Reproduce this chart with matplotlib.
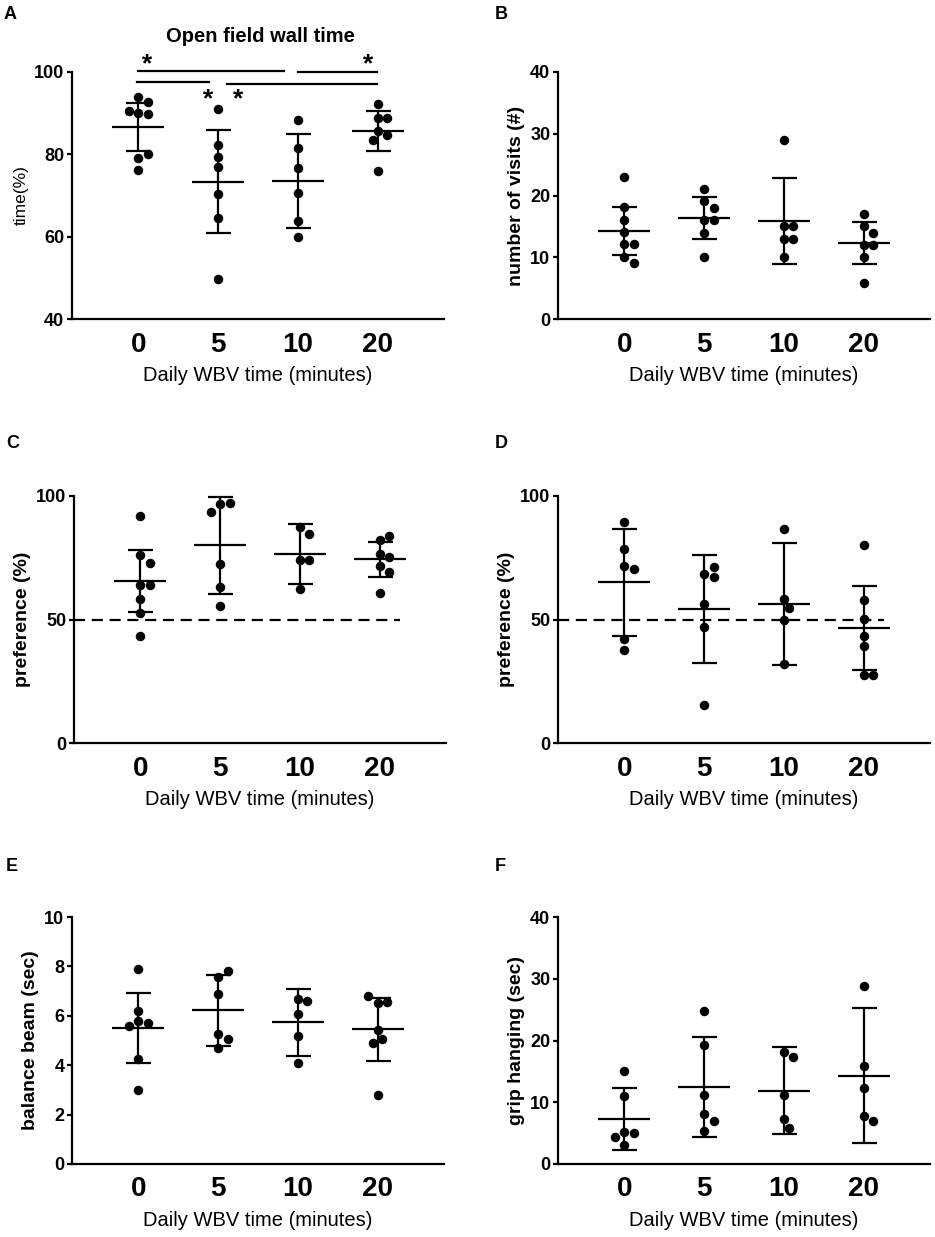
import numpy as np
import matplotlib.pyplot as plt

plt.rcParams['font.family'] = ['Liberation Sans', 'DejaVu Sans']

groups = ["0", "5", "10", "20"]

# A - open field wall time (%)
wall_pts = [[94.0, 90.0, 89.7, 92.6, 90.6, 79.0, 80.0, 76.3],
            [91.0, 82.2, 79.4, 76.9, 70.3, 64.6, 49.6],
            [88.3, 81.6, 76.7, 70.6, 63.7, 59.8],
            [92.3, 88.8, 88.8, 85.7, 84.7, 83.5, 76.0]]
wall_mean = [86.6, 73.4, 73.5, 85.7]
wall_sd = [5.75, 12.45, 11.35, 4.85]

# B - number of visits
visits_pts = [[23.0, 18.1, 16.0, 14.1, 12.1, 12.1, 10.1, 9.0],
              [21.1, 19.1, 18.0, 16.0, 16.0, 14.0, 10.0],
              [29.0, 15.1, 15.1, 13.0, 13.0, 10.0],
              [17.0, 15.1, 14.0, 12.0, 12.0, 10.0, 5.9]]
visits_mean = [14.3, 16.3, 15.9, 12.3]
visits_sd = [3.9, 3.4, 7.0, 3.35]

# C - preference (%)
prefC_pts = [[91.9, 76.1, 73.0, 64.0, 64.0, 58.2, 52.8, 43.5],
             [96.6, 97.2, 93.7, 72.4, 63.3, 55.3],
             [87.3, 84.6, 74.1, 73.9, 62.4],
             [82.2, 84.0, 76.5, 75.2, 71.7, 69.4, 60.9]]
prefC_mean = [65.5, 80.0, 76.6, 74.3]
prefC_sd = [12.5, 19.5, 12.05, 7.2]

# D - preference (%)
prefD_pts = [[89.6, 78.4, 71.8, 70.4, 42.0, 37.5],
             [68.5, 67.1, 71.2, 56.3, 46.9, 15.2],
             [86.7, 58.2, 54.6, 49.9, 31.9],
             [80.2, 58.0, 50.1, 43.4, 39.1, 27.6, 27.4]]
prefD_mean = [65.0, 54.2, 56.3, 46.6]
prefD_sd = [21.75, 22.0, 24.6, 17.05]

# E - balance beam (sec)
beam_pts = [[7.88, 5.80, 6.20, 5.69, 5.59, 4.27, 2.99],
            [7.57, 7.80, 6.90, 5.28, 5.08, 4.68],
            [6.70, 6.59, 6.09, 5.18, 4.07],
            [6.50, 6.56, 6.79, 5.42, 5.08, 4.88, 2.79]]
beam_mean = [5.49, 6.22, 5.73, 5.45]
beam_sd = [1.42, 1.45, 1.36, 1.29]

# F - grip hanging (sec)
grip_pts = [[15.1, 11.0, 5.24, 4.97, 4.3, 3.03],
            [24.7, 19.3, 11.1, 8.1, 6.97, 5.35],
            [18.1, 17.3, 11.2, 7.3, 5.78],
            [28.8, 15.9, 12.3, 7.8, 6.97]]
grip_mean = [7.3, 12.5, 11.9, 14.3]
grip_sd = [5.0, 8.1, 7.0, 10.9]

W, H = 935, 1237
fig = plt.figure(figsize=(W / 100, H / 100), dpi=100)

XLIM = (-0.83, 3.83)
AX_W, AX_H = 372, 247
DOT = 9.5  # diametro do ponto em px


def swarm(vals, ylim):
    # espalha os pontos na horizontal quando se sobrepoem (em px)
    ppu_y = AX_H / (ylim[1] - ylim[0])
    ys = [v * ppu_y for v in vals]
    placed = []
    offs = []
    cands = [0.0]
    for k in range(1, 8):
        cands += [k * DOT / 2, -k * DOT / 2]
    for y in ys:
        best = 0.0
        for c in cands:
            if all((c - px) ** 2 + (y - py) ** 2 >= DOT ** 2 for px, py in placed):
                best = c
                break
        placed.append((best, y))
        offs.append(best)
    ppu_x = AX_W / (XLIM[1] - XLIM[0])
    return np.array(offs) / ppu_x


def painel(rect, pts, mean, sd, ylim, yticks, ylabel, letra, letra_xy,
           ylabel_bold=True, ylabel_size=14, chance=False):
    ax = fig.add_axes(rect)
    for i, vals in enumerate(pts):
        xo = swarm(vals, ylim)
        ax.scatter(i + xo, vals, s=(DOT * 0.72) ** 2, c='black', zorder=3,
                   linewidths=0, clip_on=False)
    ax.errorbar(range(len(groups)), mean, yerr=sd, fmt='_', color='black',
                markersize=37, mew=1.6, elinewidth=1.6, capsize=9, capthick=1.6,
                zorder=4, clip_on=False)
    if chance:
        ax.plot([XLIM[0], 3.25], [50, 50], color='black', lw=1.6,
                dashes=(5, 3), zorder=2)
    ax.set_xlim(*XLIM)
    ax.set_ylim(*ylim)
    ax.set_yticks(yticks)
    ax.set_xticks(range(len(groups)))
    ax.set_xticklabels(groups, fontsize=20, fontweight='bold')
    for t in ax.get_yticklabels():
        t.set_fontweight('bold')
        t.set_fontsize(13)
    for s in ['top', 'right']:
        ax.spines[s].set_visible(False)
    for s in ['left', 'bottom']:
        ax.spines[s].set_linewidth(1.6)
    ax.tick_params(axis='x', length=0, pad=9)
    ax.tick_params(axis='y', length=3.5, width=1.6, pad=2)
    ax.set_xlabel("Daily WBV time (minutes)", fontsize=14.5, labelpad=6)
    ax.set_ylabel(ylabel, fontsize=ylabel_size,
                  fontweight='bold' if ylabel_bold else 'normal')
    fig.text(letra_xy[0] / W, 1 - letra_xy[1] / H, letra, fontsize=13,
             fontweight='bold', va='top', ha='left')
    return ax


def rect(x0, ytop):
    return [x0 / W, 1 - (ytop + AX_H) / H, AX_W / W, AX_H / H]


axA = painel(rect(72, 72), wall_pts, wall_mean, wall_sd, (40, 100), [40, 60, 80, 100],
             "time(%)", "A", (4, 6), ylabel_bold=False, ylabel_size=12.5)
painel(rect(558, 72), visits_pts, visits_mean, visits_sd, (0, 40), [0, 10, 20, 30, 40],
       "number of visits (#)", "B", (495, 6))
painel(rect(74, 496), prefC_pts, prefC_mean, prefC_sd, (0, 100), [0, 50, 100],
       "preference (%)", "C", (6, 435), chance=True)
painel(rect(558, 496), prefD_pts, prefD_mean, prefD_sd, (0, 100), [0, 50, 100],
       "preference (%)", "D", (495, 435), chance=True)
painel(rect(72, 917), beam_pts, beam_mean, beam_sd, (0, 10), [0, 2, 4, 6, 8, 10],
       "balance beam (sec)", "E", (6, 858))
painel(rect(558, 917), grip_pts, grip_mean, grip_sd, (0, 40), [0, 10, 20, 30, 40],
       "grip hanging (sec)", "F", (495, 858))

# titulo e barras de significancia do painel A
fig.text(260 / W, 1 - 36 / H, "Open field wall time", fontsize=14.5,
         fontweight='bold', ha='center', va='center')
barras = [(0.0, 1.82, 100.25), (2.0, 2.99, 100.05), (-0.02, 0.89, 97.6), (1.11, 2.99, 97.2)]
for x1, x2, y in barras:
    axA.plot([x1, x2], [y, y], color='black', lw=1.6, clip_on=False)
estrelas = [(0.11, 102.5), (2.88, 102.5), (0.87, 94.0), (1.25, 94.0)]
for x, y in estrelas:
    axA.text(x, y, "*", fontsize=19, fontweight='bold', ha='center', va='center_baseline',
             clip_on=False)

fig.savefig("out.png", dpi=100)
